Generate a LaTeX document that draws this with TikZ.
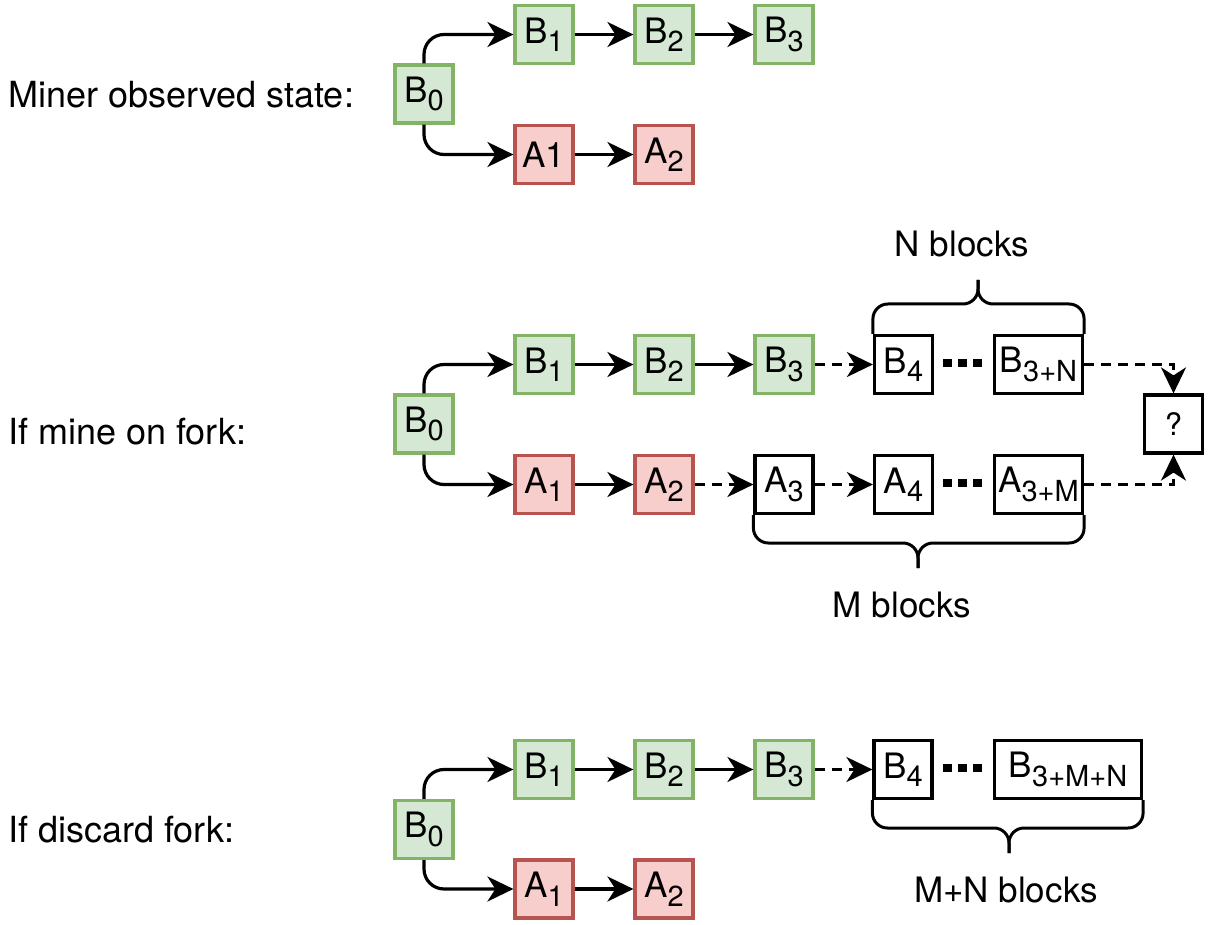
\documentclass[tikz,border=0pt]{standalone}
\usepackage{fontspec}
\setmainfont{TeX Gyre Heros}
\usetikzlibrary{arrows.meta,calc}
\definecolor{gfill}{HTML}{D5E8D4}
\definecolor{gline}{HTML}{82B366}
\definecolor{rfill}{HTML}{F8CECC}
\definecolor{rline}{HTML}{B85450}
\newcommand{\blk}[2]{#1\raisebox{-8.5pt}{\fontsize{29}{29}\selectfont #2}}
\tikzset{
  box/.style={draw, line width=3.2pt, minimum width=58pt, minimum height=58pt, inner sep=0pt, font=\fontsize{35}{35}\selectfont},
  gbox/.style={box, fill=gfill, draw=gline},
  rbox/.style={box, fill=rfill, draw=rline},
  wbox/.style={box, fill=white, draw=black},
  arr/.style={line width=3.2pt, -{Stealth[length=26pt,width=25pt,inset=8pt]}},
  darr/.style={arr, dash pattern=on 10pt off 7pt},
  brc/.style={line width=3pt, rounded corners=15pt},
  lbl/.style={font=\fontsize{35}{35}\selectfont, inner sep=0pt},
  dots/.style={line width=8.3pt, dash pattern=on 8.3pt off 6.7pt}
}
\begin{document}
\begin{tikzpicture}[x=1pt,y=-1pt]
\useasboundingbox (0,0) rectangle (1208,925);

% ---------- top section
\node[lbl, anchor=base west, font=\fontsize{36}{36}\selectfont] (lt) at (8,108) {Miner observed state:};
\node[gbox] (t0) at (424,94) {\blk{B}{0}};
\node[gbox] (tb1) at (544,34.5) {\blk{B}{1}};
\node[gbox] (tb2) at (664,34.5) {\blk{B}{2}};
\node[gbox] (tb3) at (784,34.5) {\blk{B}{3}};
\node[rbox] (ta1) at (544,154.5) {A1};
\node[rbox] (ta2) at (664,154.5) {\blk{A}{2}};
\draw[arr, rounded corners=20pt] (t0.north) |- (tb1.west);
\draw[arr, rounded corners=20pt] (t0.south) |- (ta1.west);
\draw[arr] (tb1) -- (tb2);
\draw[arr] (tb2) -- (tb3);
\draw[arr] (ta1) -- (ta2);

% ---------- middle section
\node[lbl, anchor=base west, font=\fontsize{36}{36}\selectfont] (lm) at (8,444) {If mine on fork:};
\node[gbox] (m0) at (424,424) {\blk{B}{0}};
\node[gbox] (mb1) at (544,364.5) {\blk{B}{1}};
\node[gbox] (mb2) at (664,364.5) {\blk{B}{2}};
\node[gbox] (mb3) at (784,364.5) {\blk{B}{3}};
\node[wbox] (mb4) at (903.5,364.5) {\blk{B}{4}};
\node[wbox, minimum width=88pt] (mbn) at (1038.5,364.5) {\blk{B}{3+N}};
\node[rbox] (ma1) at (544,484.5) {\blk{A}{1}};
\node[rbox] (ma2) at (664,484.5) {\blk{A}{2}};
\node[wbox] (ma3) at (784,484.5) {\blk{A}{3}};
\node[wbox] (ma4) at (903.5,484.5) {\blk{A}{4}};
\node[wbox, minimum width=88pt] (mam) at (1038.5,484.5) {\blk{A}{3+M}};
\node[wbox, font=\fontsize{31}{31}\selectfont] (q) at (1173.5,424) {?};
\draw[arr, rounded corners=20pt] (m0.north) |- (mb1.west);
\draw[arr, rounded corners=20pt] (m0.south) |- (ma1.west);
\draw[arr] (mb1) -- (mb2);
\draw[arr] (mb2) -- (mb3);
\draw[darr] (mb3) -- (mb4);
\draw[arr] (ma1) -- (ma2);
\draw[darr] (ma2) -- (ma3);
\draw[darr] (ma3) -- (ma4);
\draw[darr] (mbn.east) -| (q.north);
\draw[darr] (mam.east) -| (q.south);
\draw[dots] (943.3,363) -- (981.7,363);
\draw[dots] (943.3,483) -- (981.7,483);
% braces
\coordinate (nbm) at (978,304);
\coordinate (nbt) at (978,280);
\draw[brc] (mb4.north west) |- (nbm) -- (nbt);
\draw[brc] (mbn.north east) |- (nbm) -- (nbt);
\node[lbl, anchor=base] (nlab) at (962,257) {N blocks};
\coordinate (mbm) at (918,543);
\coordinate (mbt) at (918,568);
\draw[brc] (ma3.south west) |- (mbm) -- (mbt);
\draw[brc] (mam.south east) |- (mbm) -- (mbt);
\node[lbl, anchor=base] (mlab) at (902,617) {M blocks};

% ---------- bottom section
\node[lbl, anchor=base west, font=\fontsize{36}{36}\selectfont] (lb) at (8,842) {If discard fork:};
\node[gbox] (b0) at (424,829.5) {\blk{B}{0}};
\node[gbox] (bb1) at (544,769.5) {\blk{B}{1}};
\node[gbox] (bb2) at (664,769.5) {\blk{B}{2}};
\node[gbox] (bb3) at (784,769.5) {\blk{B}{3}};
\node[wbox] (bb4) at (903,769.5) {\blk{B}{4}};
\node[wbox, minimum width=147pt] (bbn) at (1068,769.5) {\blk{B}{3+M+N}};
\node[rbox] (ba1) at (544,889) {\blk{A}{1}};
\node[rbox] (ba2) at (664,889) {\blk{A}{2}};
\draw[arr, rounded corners=20pt] (b0.north) |- (bb1.west);
\draw[arr, rounded corners=20pt] (b0.south) |- (ba1.west);
\draw[arr] (bb1) -- (bb2);
\draw[arr] (bb2) -- (bb3);
\draw[darr] (bb3) -- (bb4);
\draw[arr] (ba1) -- (ba2);
\draw[dots] (943.3,768) -- (981.7,768);
\coordinate (bbm) at (1009,828);
\coordinate (bbt) at (1009,853);
\draw[brc] (bb4.south west) |- (bbm) -- (bbt);
\draw[brc] (bbn.south east) |- (bbm) -- (bbt);
\node[lbl, anchor=base] (blab) at (1006,902) {M+N blocks};
\end{tikzpicture}
\end{document}
